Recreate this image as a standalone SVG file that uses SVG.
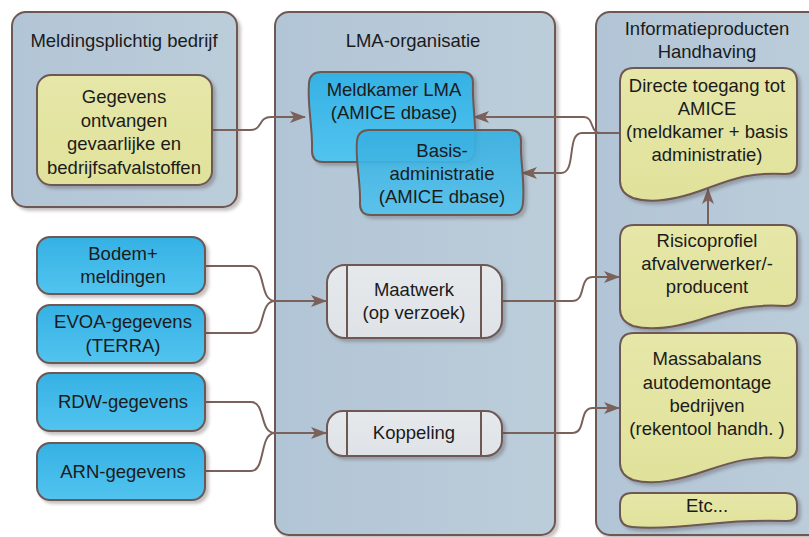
<svg xmlns="http://www.w3.org/2000/svg" width="809" height="537" viewBox="0 0 809 537">
<defs>
<style>
text{font-family:"Liberation Sans",Arial,sans-serif;font-size:18.5px;fill:#1b1b1b;text-anchor:middle}
.cont{fill:url(#gCont);stroke:#6d5853;stroke-width:2;filter:url(#sh)}
.blue{fill:url(#gBlue);stroke:#6d5853;stroke-width:2;filter:url(#sh)}
.blueT{fill:url(#gBlue);fill-opacity:0.88;stroke:#6d5853;stroke-width:2;filter:url(#sh)}
.yel{fill:url(#gYel);stroke:#6d5853;stroke-width:2;filter:url(#sh)}
.grey{fill:url(#gGrey);stroke:#6d5853;stroke-width:2;filter:url(#sh)}
.sep{stroke:#6d5853;stroke-width:2;fill:none}
.con{fill:none;stroke:#7a625b;stroke-width:2}
.arr{marker-end:url(#ah)}
</style>
<linearGradient id="gCont" x1="0" y1="0" x2="1" y2="0">
<stop offset="0" stop-color="#b2c5d6"/><stop offset="1" stop-color="#bccdda"/>
</linearGradient>
<linearGradient id="gBlue" x1="0" y1="0" x2="0" y2="1">
<stop offset="0" stop-color="#35b1e4"/><stop offset="1" stop-color="#52c4ef"/>
</linearGradient>
<linearGradient id="gYel" x1="0" y1="0" x2="0" y2="1">
<stop offset="0" stop-color="#e6e7a8"/><stop offset="1" stop-color="#e0e29b"/>
</linearGradient>
<linearGradient id="gGrey" x1="0" y1="0" x2="0" y2="1">
<stop offset="0" stop-color="#e6e9ec"/><stop offset="1" stop-color="#dfe2e6"/>
</linearGradient>
<filter id="sh" x="-10%" y="-10%" width="125%" height="125%">
<feDropShadow dx="3" dy="3" stdDeviation="1.5" flood-color="#4a3a35" flood-opacity="0.3"/>
</filter>
<marker id="ah" viewBox="0 0 16 12" refX="15" refY="6" markerWidth="16" markerHeight="12" markerUnits="userSpaceOnUse" orient="auto">
<path d="M0,0 L16,6 L0,12 L4,6 Z" fill="#7a625b"/>
</marker>
</defs>

<g id="c-meldingsplichtig">
<rect class="cont" x="12" y="12" width="225" height="195" rx="14"/>
<text x="124" y="47">Meldingsplichtig bedrijf</text>
</g>
<g id="c-lma">
<rect class="cont" x="275" y="12" width="280" height="523" rx="14"/>
<text x="413" y="47">LMA-organisatie</text>
</g>
<g id="c-info">
<rect class="cont" x="596" y="12" width="240" height="523" rx="14"/>
<text x="707" y="35">Informatieproducten</text>
<text x="707" y="58">Handhaving</text>
</g>

<g id="connectors">
<path class="con arr" d="M212,130 H250 C263,130 258,117 271,117 H305"/>
<path class="con arr" d="M620,133 H600 C590,133 594,117 584,117 H474"/>
<path class="con arr" d="M620,133 H582 C566,133 577,173 561,173 H522"/>
<path class="con" d="M205,266 H251 C266,266 259,301 275,301"/>
<path class="con" d="M205,333 H251 C266,333 259,301 275,301"/>
<path class="con arr" d="M275,301 H326"/>
<path class="con" d="M205,402 H251 C266,402 259,433 275,433"/>
<path class="con" d="M205,471 H251 C266,471 259,433 275,433"/>
<path class="con arr" d="M275,433 H326"/>
<path class="con arr" d="M502,301 H572 C587,301 578,277 593,277 H619"/>
<path class="con arr" d="M502,433 H572 C587,433 578,408 593,408 H619"/>
<path class="con arr" d="M708,225 V189"/>
</g>

<g id="n-gegevens">
<rect class="yel" x="37" y="75" width="175" height="110" rx="14"/>
<text x="124" y="103">Gegevens</text>
<text x="124" y="126.5">ontvangen</text>
<text x="124" y="150">gevaarlijke en</text>
<text x="124" y="173.5">bedrijfsafvalstoffen</text>
</g>

<g id="n-meldkamer">
<path class="blue" d="M321,72 H462 Q473,72 473,83 C472,105 477,128 475,150 Q474,162 462,162 H323 Q312,162 312,151 C313,128 307,105 309,83 Q310,72 321,72 Z"/>
<text x="394" y="96">Meldkamer LMA</text>
<text x="394" y="119">(AMICE dbase)</text>
</g>

<g id="n-basis">
<path class="blueT" d="M369,130 H510 Q521,130 521,141 C520,160 525,180 523,203 Q522,215 510,215 H371 Q360,215 360,204 C361,182 355,160 357,141 Q358,130 369,130 Z"/>
<text x="442" y="157">Basis-</text>
<text x="442" y="180">administratie</text>
<text x="442" y="203">(AMICE dbase)</text>
</g>

<g id="n-directe">
<path class="yel" d="M634,68 H783 Q797,68 797,82 V163 Q797,174 785,174 C752,172 735,178 708,188 C682,198 655,205 633,198 Q620,193 620,181 V82 Q620,68 634,68 Z"/>
<text x="707" y="92">Directe toegang tot</text>
<text x="707" y="115">AMICE</text>
<text x="707" y="138">(meldkamer + basis</text>
<text x="707" y="161">administratie)</text>
</g>

<g id="n-risico">
<path class="yel" d="M634,225 H783 Q797,225 797,239 V295 Q797,306 785,306 C752,304 735,309 708,317 C682,326 655,332 633,326 Q620,321 620,309 V239 Q620,225 634,225 Z"/>
<text x="707" y="247">Risicoprofiel</text>
<text x="707" y="270">afvalverwerker/-</text>
<text x="707" y="293">producent</text>
</g>

<g id="n-massabalans">
<path class="yel" d="M634,333 H783 Q797,333 797,347 V447 Q797,458 785,458 C752,456 735,461 708,470 C682,479 655,486 633,480 Q620,475 620,463 V347 Q620,333 634,333 Z"/>
<text x="707" y="365">Massabalans</text>
<text x="707" y="388.5">autodemontage</text>
<text x="707" y="412">bedrijven</text>
<text x="707" y="435">(rekentool handh. )</text>
</g>

<g id="n-etc">
<path class="yel" d="M632,493 H785 Q797,493 797,505 V512 Q797,521 787,521 C755,520 735,521 708,524 C680,527 655,529 632,527 Q620,526 620,515 V505 Q620,493 632,493 Z"/>
<text x="707" y="512">Etc...</text>
</g>

<g id="n-bodem">
<rect class="blue" x="37" y="237" width="168" height="57" rx="13"/>
<text x="123" y="260">Bodem+</text>
<text x="123" y="283">meldingen</text>
</g>
<g id="n-evoa">
<rect class="blue" x="37" y="305" width="168" height="58" rx="13"/>
<text x="123" y="328">EVOA-gegevens</text>
<text x="123" y="352">(TERRA)</text>
</g>
<g id="n-rdw">
<rect class="blue" x="37" y="373" width="168" height="58" rx="13"/>
<text x="123" y="408">RDW-gegevens</text>
</g>
<g id="n-arn">
<rect class="blue" x="37" y="443" width="168" height="57" rx="13"/>
<text x="123" y="478">ARN-gegevens</text>
</g>

<g id="n-maatwerk">
<rect class="grey" x="327" y="265" width="175" height="73" rx="18"/>
<line class="sep" x1="347" y1="265" x2="347" y2="338"/>
<line class="sep" x1="481" y1="265" x2="481" y2="338"/>
<text x="414" y="296">Maatwerk</text>
<text x="414" y="319">(op verzoek)</text>
</g>
<g id="n-koppeling">
<rect class="grey" x="327" y="411" width="175" height="45" rx="16"/>
<line class="sep" x1="347" y1="411" x2="347" y2="456"/>
<line class="sep" x1="481" y1="411" x2="481" y2="456"/>
<text x="414" y="439">Koppeling</text>
</g>
</svg>
